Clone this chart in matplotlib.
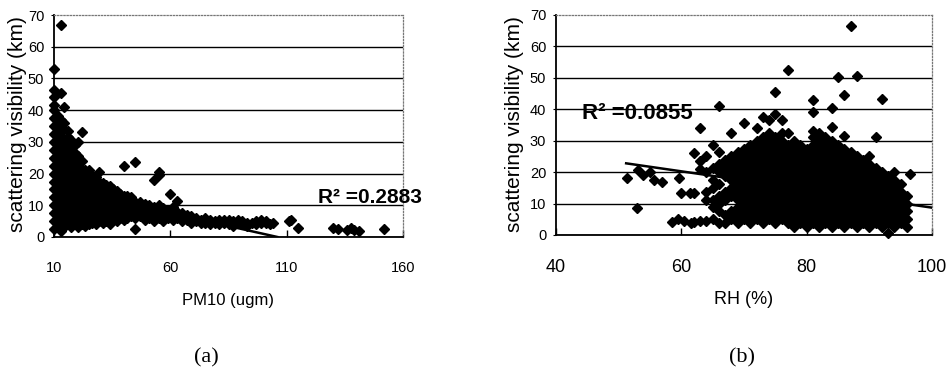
import matplotlib.pyplot as plt
import numpy as np

plt.rcParams['font.family'] = ['Liberation Sans', 'DejaVu Sans']

# ---- panel (a): visibility vs PM10, one column of points per PM10 value ----
pm10_cols = [10.0, 11.5, 13.0, 14.5, 16.0, 17.5, 19.0, 20.5, 22.0, 23.5, 25.0, 26.5,
             28.0, 29.5, 31.0, 32.5, 34.0, 35.5, 37.0, 38.5, 40.0, 41.5, 43.0, 45.0,
             47.0, 49.0, 51.0, 53.0, 55.0, 57.0, 59.0, 60.0, 61.0, 63.0, 65.0, 67.0,
             69.0, 71.0, 73.0, 75.0, 77.0, 79.0, 81.0, 83.0, 85.0, 87.0, 89.0, 91.0,
             93.0, 95.0, 97.0, 99.0, 101.0, 103.0, 104.0, 111.0, 112.0, 115.0, 130.0,
             132.0, 136.0, 137.5, 139.0, 141.0, 152.0]
vis_a_cols = [
    [2.5, 5, 7.5, 10, 12.5, 15, 17.5, 20, 22.5, 25, 27.5, 30, 32.5, 35, 37.5, 40, 41.5, 44, 46.5, 53],
    [3, 5.5, 8, 10.5, 13, 15.5, 18, 20.5, 23, 25.5, 28, 30.5, 33, 35.5, 38],
    [2, 4.5, 7, 9.5, 12, 14.5, 17, 19.5, 22, 24.5, 27, 29.5, 32, 34.5, 37, 45.5, 67],
    [3, 5.5, 8, 10.5, 13, 15.5, 18, 20.5, 23, 25.5, 28, 30.5, 34, 36, 41],
    [4, 6.5, 9, 11.5, 14, 16.5, 19, 21.5, 24, 26.5, 29, 31.5, 33.5],
    [3, 5.5, 8, 10.5, 13, 15.5, 18, 20.5, 23, 25.5, 28, 30.5],
    [4, 6.5, 9, 11.5, 14, 16.5, 19, 21.5, 24, 26.5, 29],
    [3, 5.5, 8, 10.5, 13, 15.5, 18, 20.5, 23, 25.5, 30],
    [4, 6.5, 9, 11.5, 14, 16.5, 19, 21.5, 24, 33],
    [3.5, 6, 8.5, 11, 13.5, 16, 18.5, 21],
    [4, 6.5, 9, 11.5, 14, 16.5, 19, 21],
    [4.5, 7, 9.5, 12, 14.5, 17, 19.5],
    [4, 6.5, 9, 11.5, 14, 16.5, 19],
    [5, 7.5, 10, 12.5, 15, 17.5, 20.5],
    [4.5, 7, 9.5, 12, 14.5, 17],
    [5, 7.5, 10, 12.5, 15, 16.5],
    [4, 6.5, 9, 11.5, 14, 16],
    [5.5, 8, 10.5, 13, 15],
    [5, 7.5, 10, 12.5, 14.5],
    [6, 8.5, 11, 13.5],
    [5.5, 8, 10.5, 13, 22.5],
    [6, 8.5, 11, 13],
    [6.5, 9, 11.5, 12.5],
    [2.5, 6, 8.5, 11, 23.5],
    [6.5, 9, 11],
    [5.5, 8, 10.5],
    [6, 8.5, 10],
    [5, 7.5, 9.5, 18],
    [6, 8.5, 10, 19.5, 20.5],
    [5, 7.5, 9],
    [6, 8.5],
    [13.5],
    [5.5, 8, 9.5],
    [6, 8, 11.5],
    [5, 7.5],
    [5.5, 7],
    [4.5, 6.5],
    [5, 6],
    [4.5, 5.5],
    [4.5, 6],
    [4, 5.5],
    [4.5, 5],
    [4, 5.5],
    [4.5, 5.5],
    [4, 5.5],
    [3.5, 5],
    [4.5, 5.5],
    [4, 5],
    [3.5, 4.5],
    [4.5],
    [4, 5],
    [4.5, 5.5],
    [4.5, 5],
    [4],
    [4.5],
    [5],
    [5.5],
    [2.8],
    [2.8],
    [2.5],
    [2.2],
    [2.8],
    [2.2],
    [2.0],
    [2.5],
]
trend_a_x = [10, 106]
trend_a_y = [15.8, 0]

# ---- panel (b): visibility vs RH ----
rh_cols = [51.3, 52.9, 53.1, 53.9, 55.0, 55.6, 56.9, 58.5, 59.5, 59.6, 60.0, 60.5,
           61.4, 61.5, 62.0, 63.0, 64.0, 65.0, 66.0, 67.0, 68.0, 69.0, 70.0, 71.0,
           72.0, 73.0, 74.0, 75.0, 76.0, 77.0, 78.0, 79.0, 80.0, 81.0, 82.0, 83.0,
           84.0, 85.0, 86.0, 87.0, 88.0, 89.0, 90.0, 91.0, 92.0, 93.0, 94.0, 95.0,
           96.0, 96.5]
vis_b_cols = [
    [18.1],
    [8.5],
    [20.7],
    [19.1],
    [20.0],
    [17.5],
    [16.9],
    [4.2],
    [5.0],
    [18.0],
    [13.4],
    [4.5],
    [13.4],
    [3.8],
    [4.2, 13.5, 26],
    [4.6, 21, 23.5, 34],
    [4.5, 11.25, 13.75, 20, 25],
    [5, 8.75, 11.25, 15, 17.5, 21.25, 28.6],
    [3.75, 7.5, 10, 12.5, 16.25, 20, 22.5, 26.4, 40.9],
    [3.75, 6.25, 11.25, 13.75, 18.75, 21.25, 23.75],
    [5, 7.5, 12.5, 15, 17.5, 20, 22.5, 25, 32.6],
    [3.75, 6.25, 8.75, 11.25, 13.75, 16.25, 18.75, 21.25, 23.75, 26.25],
    [5, 7.5, 10, 12.5, 15, 17.5, 20, 22.5, 25, 27.5, 35.5],
    [3.75, 6.25, 8.75, 11.25, 13.75, 16.25, 18.75, 21.25, 23.75, 26.25, 28.75],
    [5, 7.5, 10, 12.5, 15, 17.5, 20, 22.5, 25, 27.5, 30, 34],
    [3.75, 6.25, 8.75, 11.25, 13.75, 16.25, 18.75, 21.25, 23.75, 26.25, 28.75, 31.25, 37.5],
    [5, 7.5, 10, 12.5, 15, 17.5, 20, 22.5, 25, 27.5, 30, 32.5, 36.5],
    [3.75, 6.25, 8.75, 11.25, 13.75, 16.25, 18.75, 21.25, 23.75, 26.25, 28.75, 31.25, 38.5, 45.5],
    [5, 7.5, 10, 12.5, 15, 17.5, 20, 22.5, 25, 27.5, 30, 32.5, 36.5],
    [3.75, 6.25, 8.75, 11.25, 13.75, 16.25, 18.75, 21.25, 23.75, 26.25, 28.75, 32.5, 52.5],
    [2.5, 5, 7.5, 10, 12.5, 15, 17.5, 20, 22.5, 25, 27.5, 30],
    [3.75, 6.25, 8.75, 11.25, 13.75, 16.25, 18.75, 21.25, 23.75, 26.25, 28.75],
    [2.5, 5, 7.5, 10, 12.5, 15, 17.5, 20, 22.5, 25, 27.5],
    [3.75, 6.25, 8.75, 11.25, 13.75, 16.25, 18.75, 21.25, 23.75, 26.25, 28.75, 31.25, 33, 39, 43],
    [2.5, 5, 7.5, 10, 12.5, 15, 17.5, 20, 22.5, 25, 27.5, 30, 32.5],
    [3.75, 6.25, 8.75, 11.25, 13.75, 16.25, 18.75, 21.25, 23.75, 26.25, 28.75, 31.25],
    [2.5, 5, 7.5, 10, 12.5, 15, 17.5, 20, 22.5, 25, 27.5, 30, 34.5, 40.5],
    [3.75, 6.25, 8.75, 11.25, 13.75, 16.25, 18.75, 21.25, 23.75, 26.25, 28.75, 50.3],
    [2.5, 5, 7.5, 10, 12.5, 15, 17.5, 20, 22.5, 25, 27.5, 31.5, 44.5],
    [3.75, 6.25, 8.75, 11.25, 13.75, 16.25, 18.75, 21.25, 23.75, 26.25, 66.5],
    [2.5, 5, 7.5, 10, 12.5, 15, 17.5, 20, 22.5, 25, 50.7],
    [3.75, 6.25, 8.75, 11.25, 13.75, 16.25, 18.75, 21.25, 23.75],
    [2.5, 5, 7.5, 10, 12.5, 15, 17.5, 20, 22.5, 25],
    [3.75, 6.25, 8.75, 11.25, 13.75, 16.25, 18.75, 21.25, 31.3],
    [2.5, 5, 7.5, 10, 12.5, 15, 17.5, 20, 43.2],
    [0.5, 3.75, 6.25, 8.75, 11.25, 13.75, 16.25, 18.75],
    [2.5, 5, 7.5, 10, 12.5, 15, 17.5, 20],
    [3.75, 6.25, 8.75, 11.25, 13.75, 16.25],
    [2.5, 5, 7.5, 10, 12.5],
    [19.3],
]
trend_b_x = [51.2, 100]
trend_b_y = [22.8, 8.7]


def flatten(xcols, ycols):
    xs = np.repeat(xcols, [len(c) for c in ycols])
    ys = np.concatenate([np.asarray(c, float) for c in ycols])
    return xs, ys


def style_axes(ax, xlim, xticks, xsize):
    ax.set_xlim(*xlim)
    ax.set_ylim(0, 70)
    ax.set_xticks(xticks)
    ax.set_yticks(range(0, 71, 10))
    ax.grid(axis='y', color='black', linewidth=1.0, zorder=1)
    ax.get_ygridlines()[-1].set_visible(False)
    for side in ('top', 'right'):
        ax.spines[side].set_linestyle((0, (1, 1.5)))
        ax.spines[side].set_color('#777777')
        ax.spines[side].set_linewidth(0.9)
    for side in ('left', 'bottom'):
        ax.spines[side].set_color('black')
        ax.spines[side].set_linewidth(1.3)
    ax.tick_params(axis='x', direction='in', length=5, width=1, pad=17, labelsize=xsize)
    ax.tick_params(axis='y', direction='out', length=2, width=0.8, pad=5, labelsize=10.5)


fig = plt.figure(figsize=(9.51, 3.87), dpi=100)

ax1 = fig.add_axes([0.0568, 0.3876, 0.367, 0.5736])
style_axes(ax1, (10, 160), [10, 60, 110, 160], 10.5)
x, y = flatten(pm10_cols, vis_a_cols)
ax1.plot(x, y, 'D', color='black', markersize=4.6, zorder=3, clip_on=False)
ax1.plot(trend_a_x, trend_a_y, color='black', linewidth=1.8, zorder=4)
ax1.text(123.5, 12.6, 'R² =0.2883', fontsize=15, fontweight='bold', va='center', ha='left')

ax2 = fig.add_axes([0.5846, 0.3928, 0.3954, 0.5685])
style_axes(ax2, (40, 100), [40, 60, 80, 100], 13)
x, y = flatten(rh_cols, vis_b_cols)
ax2.plot(x, y, 'D', color='black', markersize=4.6, zorder=3, clip_on=False)
ax2.plot(trend_b_x, trend_b_y, color='black', linewidth=1.8, zorder=4)
ax2.text(44.1, 38.8, 'R² =0.0855', fontsize=16, fontweight='bold', va='center', ha='left')

# axis titles
fig.text(18 / 951, 1 - 232 / 387, 'scattering visibility (km)', rotation=90,
         ha='center', va='bottom', fontsize=15)
fig.text(514 / 951, 1 - 232 / 387, 'scattering visibility (km)', rotation=90,
         ha='center', va='bottom', fontsize=15)
fig.text(228 / 951, 1 - 300 / 387, 'PM10 (ugm)', ha='center', va='center', fontsize=12)
fig.text(744 / 951, 1 - 300 / 387, 'RH (%)', ha='center', va='center', fontsize=13)

fig.text(206 / 951, 1 - 358 / 387, '(a)', ha='center', va='center', fontsize=16,
         family=['Liberation Serif', 'DejaVu Serif'])
fig.text(742 / 951, 1 - 358 / 387, '(b)', ha='center', va='center', fontsize=16,
         family=['Liberation Serif', 'DejaVu Serif'])

fig.savefig('out.png', dpi=100)
